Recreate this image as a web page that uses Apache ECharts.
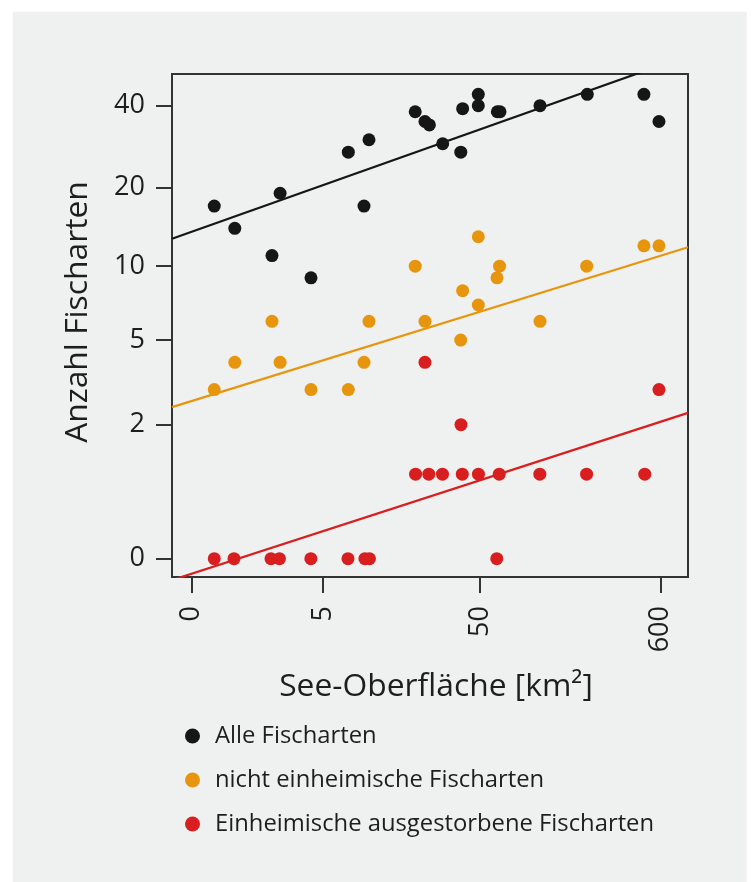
<!DOCTYPE html>
<html>
<head>
<meta charset="utf-8">
<script src="https://cdn.jsdelivr.net/npm/echarts@6.0.0/dist/echarts.min.js"></script>
<style>
html,body{margin:0;padding:0;background:#ffffff;}
#chart{width:752px;height:882px;}
</style>
</head>
<body>
<div id="chart"></div>
<script>
// ---- Data (raw units: lake surface in km², number of fish species) ----
const areaAll = [0.36, 0.80, 1.99, 2.34, 4.09, 7.47, 9.49, 10.23, 20.1, 23.1, 24.6, 29.7, 38.3, 39.3, 48.9, 48.9, 63.7, 66.1, 114.8, 219.7, 477, 586];
const countAll = [17, 14, 11, 19, 9, 27, 17, 30, 38, 35, 34, 29, 27, 39, 44, 40, 38, 38, 40, 44, 44, 35];

const areaNonNative = [0.36, 0.80, 1.99, 2.34, 4.09, 7.47, 9.49, 10.23, 20.1, 23.1, 38.25, 39.3, 48.9, 48.9, 63.4, 65.7, 114.8, 218, 477, 586];
const countNonNative = [3, 4, 6, 4, 3, 3, 4, 6, 10, 6, 5, 8, 13, 7, 9, 10, 6, 10, 12, 12];

const areaExtinct = [0.36, 0.78, 1.95, 2.31, 4.08, 7.43, 9.62, 10.3, 63.2, 20.2, 24.4, 29.6, 39.1, 49.0, 65.4, 114.5, 217.6, 482.5, 38.4, 23.1, 586];
const countExtinct = [0, 0, 0, 0, 0, 0, 0, 0, 0, 1, 1, 1, 1, 1, 1, 1, 1, 1, 2, 4, 3];

// Fitted lines in log(1+x) / log(1+y) space: [intercept, slope]
const trendAll = [2.680, 0.2133];
const trendNonNative = [1.2926, 0.1862];
const trendExtinct = [-0.123, 0.1947];

// Tick labels
const xTickLabels = [0, 5, 50, 600];
const yTickLabels = [0, 2, 5, 10, 20, 40];

const seriesNames = ['Alle Fischarten', 'nicht einheimische Fischarten', 'Einheimische ausgestorbene Fischarten'];
const colors = ['#161616', '#e8950e', '#d81e1e'];

// ---- Helpers ----
const t = v => Math.log1p(v);
const X_MIN = -0.269, X_MAX = 6.771;
const Y_MIN = -0.150, Y_MAX = 3.973;
const pts = (xs, ys) => xs.map((x, i) => [t(x), t(ys[i])]);
const trendLine = c => [[X_MIN, c[0] + c[1] * X_MIN], [X_MAX, c[0] + c[1] * X_MAX]];
const fmt = v => String(Math.round(Math.expm1(v)));

const FONT = '"Open Sans", "DejaVu Sans", sans-serif';
const TXT = '#1e1e1e';
const AX = '#333333';

const chart = echarts.init(document.getElementById('chart'), null, {renderer: 'canvas'});

function scatter(name, data, color) {
  return {
    name, type: 'scatter', data, symbol: 'circle', symbolSize: 13,
    itemStyle: {color: color, opacity: 1}, z: 3, silent: true
  };
}
function line(data, color) {
  return {
    type: 'line', data, symbol: 'none', clip: true, silent: true,
    lineStyle: {color: color, width: 2.2}, z: 4
  };
}

chart.setOption({
  animation: false,
  backgroundColor: 'transparent',
  textStyle: {fontFamily: FONT},
  graphic: {
    elements: [
      {type: 'rect', z: -10, silent: true,
       shape: {x: 12.7, y: 11.7, width: 734, height: 871},
       style: {fill: '#eff0f0'}},
      {type: 'text', z: 10, silent: true,
       x: 78, y: 312, rotation: Math.PI / 2,
       style: {text: 'Anzahl Fischarten', font: '31.8px ' + FONT, fill: TXT,
               textAlign: 'center', textVerticalAlign: 'middle'}},
      {type: 'text', z: 10, silent: true,
       x: 436, y: 687,
       style: {text: 'See-Oberfläche [km²]', font: '31.8px ' + FONT, fill: TXT,
               textAlign: 'center', textVerticalAlign: 'middle'}}
    ]
  },
  grid: {
    left: 172, top: 74, width: 516, height: 503,
    show: true, borderColor: AX, borderWidth: 2, backgroundColor: 'transparent'
  },
  legend: {
    orient: 'vertical', left: 185, top: 724, padding: 0,
    itemWidth: 15, itemHeight: 15, itemGap: 20, icon: 'circle',
    data: seriesNames,
    selectedMode: false,
    textStyle: {fontSize: 23.8, fontFamily: FONT, color: TXT, lineHeight: 24, padding: [0, 0, 0, 10]}
  },
  xAxis: {
    type: 'value', min: X_MIN, max: X_MAX,
    splitLine: {show: false},
    axisLine: {show: true, onZero: false, lineStyle: {color: AX, width: 2}},
    axisTick: {show: true, customValues: xTickLabels.map(t), length: 16, lineStyle: {color: AX, width: 2}},
    axisLabel: {customValues: xTickLabels.map(t), formatter: fmt, rotate: 90, margin: 29,
                fontSize: 27, fontFamily: FONT, color: TXT}
  },
  yAxis: {
    type: 'value', min: Y_MIN, max: Y_MAX,
    splitLine: {show: false},
    axisLine: {show: true, onZero: false, lineStyle: {color: AX, width: 2}},
    axisTick: {show: true, customValues: yTickLabels.map(t), length: 16, lineStyle: {color: AX, width: 2}},
    axisLabel: {customValues: yTickLabels.map(t), formatter: fmt, margin: 27,
                fontSize: 27, fontFamily: FONT, color: TXT}
  },
  series: [
    scatter(seriesNames[0], pts(areaAll, countAll), colors[0]),
    scatter(seriesNames[1], pts(areaNonNative, countNonNative), colors[1]),
    scatter(seriesNames[2], pts(areaExtinct, countExtinct), colors[2]),
    line(trendLine(trendAll), colors[0]),
    line(trendLine(trendNonNative), colors[1]),
    line(trendLine(trendExtinct), colors[2])
  ]
});
</script>
</body>
</html>
